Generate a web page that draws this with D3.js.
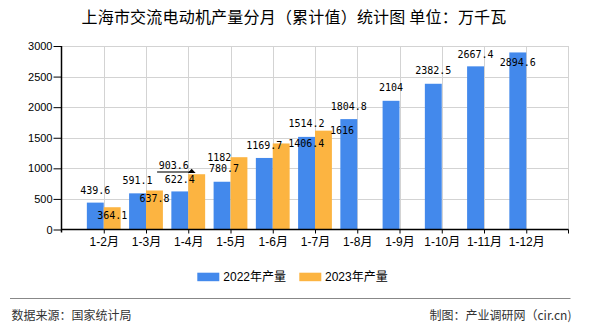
<!DOCTYPE html>
<html><head><meta charset="utf-8">
<script src="https://cdn.jsdelivr.net/npm/d3@7"></script>
<style>body{margin:0;background:#fff;overflow:hidden}</style>
</head><body>
<svg id="c" width="590" height="330"></svg>
<script>
const categories = ["1-2月","1-3月","1-4月","1-5月","1-6月","1-7月","1-8月","1-9月","1-10月","1-11月","1-12月"];
const values2022 = [439.6, 591.1, 622.4, 780.7, 1169.7, 1514.2, 1804.8, 2104, 2382.5, 2667.4, 2894.6];
const values2023 = [364.1, 637.8, 903.6, 1182, 1406.4, 1616];
const seriesNames = ["2022年产量", "2023年产量"];
const yTicks = [0, 500, 1000, 1500, 2000, 2500, 3000];
const titleText = "上海市交流电动机产量分月（累计值）统计图 单位：万千瓦";
const sourceText = "数据来源：国家统计局";
const creditText = "制图：产业调研网（cir.cn)";

// label-layout nudges [dx, dy] in px (collision avoidance as in the original)
const nudge2022 = [[0,0],[0,0],[0,0],[2,-0.5],[0,0],[0,-0.5],[0,-0.5],[0,-0.5],[0,-0.5],[0,0.8],[0,22]];
const nudge2023 = [[0,0],[0,0],[-23,-17.3],[-19.7,-7.5],[25,-8.2],[18.5,-8.4]];
const leaderIdx2023 = [2];

const colors = ["#4389ec", "#fcb441"];
const svg = d3.select("#c");
const L = 61.5, R = 568.5, T = 46, B = 229.5;

const x = d3.scalePoint().domain(categories).range([L, R]).padding(1);
const y = d3.scaleLinear().domain([0, 3000]).range([B, T]);
const bw = x.step() * 0.4;

// title
svg.append("text").attr("x", 294).attr("y", 17.5).attr("dy", "0.35em")
  .attr("text-anchor", "middle").attr("font-family", "'Noto Sans CJK SC', sans-serif")
  .attr("font-size", 16).attr("letter-spacing", 0.2).attr("fill", "#000").text(titleText);

// grid
const grid = svg.append("g").attr("stroke", "#d3d3d3").attr("stroke-width", 1);
grid.selectAll("line.h").data(yTicks.filter(d => d > 0)).join("line")
  .attr("x1", L).attr("x2", R).attr("y1", d => Math.round(y(d)) + 0.5).attr("y2", d => Math.round(y(d)) + 0.5);
grid.selectAll("line.v").data(categories).join("line")
  .attr("x1", d => Math.round(x(d)) + 0.5).attr("x2", d => Math.round(x(d)) + 0.5)
  .attr("y1", T).attr("y2", B);
grid.append("line").attr("x1", R).attr("x2", R).attr("y1", T).attr("y2", B);

// bars
const g2022 = svg.append("g").attr("fill", colors[0]);
g2022.selectAll("rect").data(values2022).join("rect")
  .attr("x", (d, i) => x(categories[i]) - bw).attr("width", bw)
  .attr("y", d => y(d)).attr("height", d => B - y(d));
const g2023 = svg.append("g").attr("fill", colors[1]);
g2023.selectAll("rect").data(values2023).join("rect")
  .attr("x", (d, i) => x(categories[i])).attr("width", bw)
  .attr("y", d => y(d)).attr("height", d => B - y(d));

// axes
const yAxis = svg.append("g").attr("transform", `translate(${L},0)`)
  .call(d3.axisLeft(y).tickValues(yTicks).tickFormat(d3.format("d")).tickSize(8).tickPadding(1).tickSizeOuter(0));
yAxis.select(".domain").remove();
yAxis.selectAll("line").attr("stroke", "#000");
yAxis.selectAll("text").attr("font-family", "'Liberation Sans', Arial, sans-serif").attr("font-size", 11).attr("fill", "#000");
svg.append("line").attr("x1", L).attr("x2", L).attr("y1", T).attr("y2", B + 3).attr("stroke", "#000").attr("stroke-width", 1.5);

const xAxis = svg.append("g").attr("transform", `translate(0,${B})`)
  .call(d3.axisBottom(x).tickSize(4).tickSizeOuter(0));
xAxis.select(".domain").attr("stroke", "#000").attr("stroke-width", 1.5).attr("d", `M${L},0H${R}`);
xAxis.selectAll("line").attr("stroke", "#000");
xAxis.selectAll("text").attr("y", 12.2).attr("dy", "0.35em").attr("font-family", "'Liberation Sans', 'Noto Sans CJK SC', sans-serif")
  .attr("font-size", 12).attr("fill", "#000");
svg.append("line").attr("x1", R).attr("x2", R).attr("y1", B).attr("y2", B + 4).attr("stroke", "#000");

// value labels
const lblFont = "'DejaVu Sans Mono', 'Liberation Mono', monospace";
svg.append("g").selectAll("text").data(values2022).join("text")
  .attr("x", (d, i) => x(categories[i]) - bw / 2 + nudge2022[i][0])
  .attr("y", (d, i) => y(d) - 12.5 + nudge2022[i][1])
  .attr("dy", "0.36em").attr("text-anchor", "middle")
  .attr("font-family", lblFont).attr("font-size", 10).attr("fill", "#000")
  .text(d => d);
svg.append("g").selectAll("text").data(values2023).join("text")
  .attr("x", (d, i) => x(categories[i]) + bw / 2 + nudge2023[i][0])
  .attr("y", (d, i) => y(d) + 8 + nudge2023[i][1])
  .attr("dy", "0.36em").attr("text-anchor", "middle")
  .attr("font-family", lblFont).attr("font-size", 10).attr("fill", "#000")
  .text(d => d);

// leader lines for moved labels
leaderIdx2023.forEach(i => {
  const bx = x(categories[i]);
  const top = y(values2023[i]);
  const lx = bx + bw / 2 + nudge2023[i][0];
  svg.append("line").attr("x1", lx - 16.6).attr("x2", bx + 3.4)
    .attr("y1", top - 2.3).attr("y2", top - 2.3).attr("stroke", "#777").attr("stroke-width", 2);
  svg.append("path").attr("d", `M${bx + 3.4},${top - 5.5}L${bx - 0.5},${top - 1.2}L${bx + 7.4},${top - 1.2}Z`).attr("fill", "#000");
});

// legend
const lg = svg.append("g");
[[197.3, 223.3], [299.3, 325]].forEach((p, k) => {
  lg.append("rect").attr("x", p[0]).attr("y", 272.7).attr("width", 22).attr("height", 8.5).attr("fill", colors[k]);
  lg.append("text").attr("x", p[1]).attr("y", 276.7).attr("dy", "0.35em")
    .attr("font-family", "'Liberation Sans', 'Noto Sans CJK SC', sans-serif").attr("font-size", 12).attr("fill", "#000")
    .text(seriesNames[k]);
});

// footer
svg.append("line").attr("x1", 10).attr("x2", 570.5).attr("y1", 298.5).attr("y2", 298.5).attr("stroke", "#888").attr("stroke-width", 1);
svg.append("text").attr("x", 11.5).attr("y", 316).attr("dy", "0.35em")
  .attr("font-family", "'Noto Sans CJK SC', sans-serif").attr("font-size", 12).attr("fill", "#333").text(sourceText);
svg.append("text").attr("x", 571.5).attr("y", 316).attr("dy", "0.35em").attr("text-anchor", "end")
  .attr("font-family", "'Noto Sans CJK SC', sans-serif").attr("font-size", 12).attr("fill", "#333").text(creditText);
</script>
</body></html>
